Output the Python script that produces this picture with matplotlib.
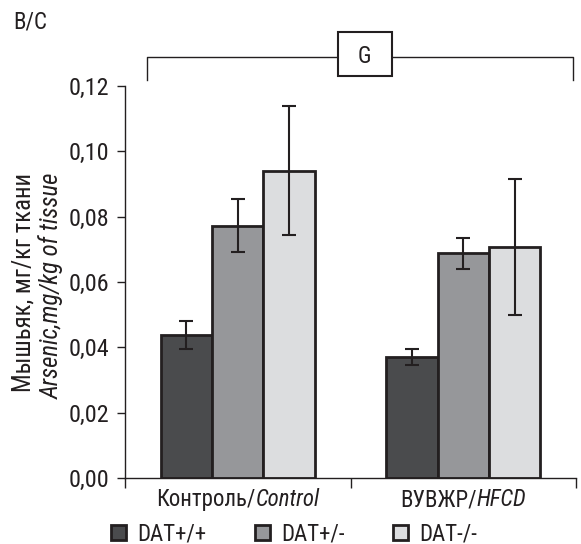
import matplotlib
matplotlib.use("Agg")
import matplotlib.pyplot as plt
from matplotlib.patches import Rectangle
import numpy as np

plt.rcParams['font.family'] = ['Roboto Condensed', 'DejaVu Sans']

groups_ru = ["Контроль/", "ВУВЖР/"]
groups_en = ["Control", "HFCD"]
series = ["DAT+/+", "DAT+/-", "DAT-/-"]
values = {
    "DAT+/+": [0.0438, 0.0371],
    "DAT+/-": [0.0772, 0.0688],
    "DAT-/-": [0.0941, 0.0707],
}
errors = {
    "DAT+/+": [0.0043, 0.0025],
    "DAT+/-": [0.0081, 0.0047],
    "DAT-/-": [0.0198, 0.0207],
}
yticks = [0.00, 0.02, 0.04, 0.06, 0.08, 0.10, 0.12]
ylabel_ru = "Мышьяк, мг/кг ткани"
ylabel_en = "Arsenic,mg/kg of tissue"
panel = "B/C"
sig = "G"
colors = ["#4a4b4d", "#96979a", "#dcdddf"]
edge = "#231f20"

W, H = 581, 544
fig = plt.figure(figsize=(W / 100, H / 100), dpi=100)
renderer = fig.canvas.get_renderer()


def text_w(s, size=10, **kw):
    t = fig.text(0, 0, s, fontsize=size, **kw)
    w = t.get_window_extent(renderer).width
    t.remove()
    return w


def fit(s, target, **kw):
    return 10 * target / text_w(s, 10, **kw)


fs_tick = fit("0,12", 40)
fs_ylab = fit(ylabel_ru, 220)
fs_cat = 10 * 164 / (text_w(groups_ru[0]) + text_w(groups_en[0], style='italic'))
fs_leg = fs_cat

ax = fig.add_axes([125 / W, 1 - 478 / H, (576 - 125) / W, (478 - 86) / H])

centers = np.arange(len(groups_en)) + 0.5
width = 0.228
for i, s in enumerate(series):
    x = centers + (i - 1) * width
    ax.bar(x, values[s], width=width, color=colors[i], edgecolor=edge, linewidth=2, zorder=2)
    ax.errorbar(x, values[s], yerr=errors[s], fmt='none', ecolor=edge, elinewidth=1.5,
                capsize=5, capthick=1.5, zorder=3)

ax.set_xlim(0, 2)
ax.set_ylim(0, 0.12)
ax.set_yticks(yticks)
ax.set_yticklabels([f"{t:.2f}".replace('.', ',') for t in yticks], fontsize=fs_tick, color=edge)
ax.set_xticks([0, 1, 2])
ax.set_xticklabels([])
ax.tick_params(axis='y', direction='out', length=6, width=1, colors=edge, pad=5)
ax.tick_params(axis='x', direction='out', length=7, width=1, colors=edge)
for sp in ['top', 'right']:
    ax.spines[sp].set_visible(False)
for sp in ['left', 'bottom']:
    ax.spines[sp].set_color(edge)
    ax.spines[sp].set_linewidth(1)

# category labels: regular Russian + italic English, centred under each group
for c, ru, en in zip(centers, groups_ru, groups_en):
    w1 = text_w(ru, fs_cat)
    w2 = text_w(en, fs_cat, style='italic')
    cx = ax.transData.transform((c, 0))[0]
    left = cx - (w1 + w2) / 2
    yb = 1 - 506 / H
    fig.text(left / W, yb, ru, fontsize=fs_cat, color=edge, ha='left', va='baseline')
    fig.text((left + w1) / W, yb, en, fontsize=fs_cat, color=edge, style='italic',
             ha='left', va='baseline')

# y label (two lines)
fig.text(24 / W, 1 - 283 / H, ylabel_ru, rotation=90, ha='center', va='center',
         fontsize=fs_ylab, color=edge)
fig.text(51 / W, 1 - 286 / H, ylabel_en, rotation=90, ha='center', va='center',
         fontsize=fs_ylab, style='italic', color=edge)

# panel label
fig.text(13 / W, 1 - 28 / H, panel, ha='left', va='baseline', fontsize=fs_cat, color=edge)

# bracket with G box
tr = ax.get_xaxis_transform()
ax.plot([0.098, 0.098, 1.987, 1.987], [1.015, 1.074, 1.074, 1.015], transform=tr,
        color=edge, lw=1, clip_on=False)
ax.add_patch(Rectangle((0.945, (478 - 76) / 392), 0.239, 44 / 392, transform=tr,
                       facecolor='white', edgecolor=edge, lw=1.5, clip_on=False, zorder=5))
ax.text(1.062, (478 - 56) / 392, sig, transform=tr, ha='center', va='center',
        fontsize=fs_cat, color=edge, zorder=6)

# legend
em = fs_leg * 100 / 72
wl1 = text_w(series[0], fs_leg)
wl2 = text_w(series[1], fs_leg)
gap = ((253 - (137 + wl1)) + (394 - (280 + wl2))) / 2
handles = [Rectangle((0, 0), 1, 1, facecolor=colors[i], edgecolor=edge, linewidth=2)
           for i in range(3)]
fig.legend(handles, series, loc='center left', bbox_to_anchor=(111 / W, 1 - 534 / H), ncol=3,
           frameon=False, fontsize=fs_leg, handlelength=15 / em, handleheight=15 / em,
           handletextpad=11 / em, columnspacing=max(gap, 10) / em, borderpad=0,
           borderaxespad=0, labelcolor=edge)

fig.savefig("out.png", dpi=100)
